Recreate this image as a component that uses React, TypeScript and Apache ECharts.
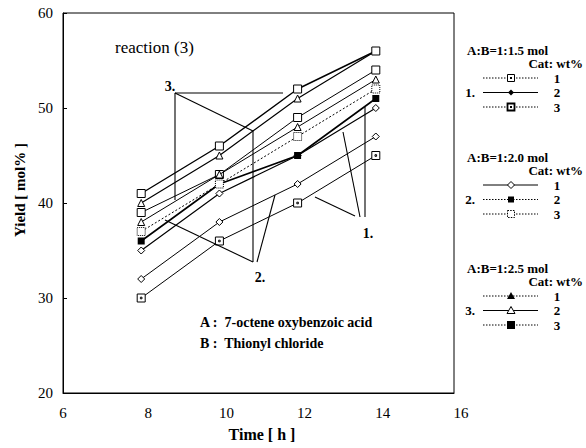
import React, { useEffect, useRef } from "react";
import * as echarts from "echarts";

// ---------- data ----------
const times = [8, 10, 12, 14];
const g1c1 = [30, 36, 40, 45];
const g1c2 = [35, 41, 45, 50];
const g1c3 = [36, 42, 45, 51];
const g2c1 = [32, 38, 42, 47];
const g2c2 = [39, 43, 49, 54];
const g2c3 = [37, 42, 47, 52];
const g3c1 = [38, 43, 48, 53];
const g3c2 = [40, 45, 51, 56];
const g3c3 = [41, 46, 52, 56];

const groupHeaders = ["A:B=1:1.5 mol", "A:B=1:2.0 mol", "A:B=1:2.5 mol"];
const groupTags = ["1.", "2.", "3."];
const catLabels = ["1", "2", "3"];
const noteLines = ["A :  7-octene oxybenzoic acid", "B :  Thionyl chloride"];

const FONT = "'Liberation Serif', 'Times New Roman', serif";

const SQDOT = "path://M0,0H10V10H0Z M4,4H6V6H4Z";

type Kind = "sqdot" | "fdia" | "sqbold" | "odia" | "fsqs" | "osq" | "dsq" | "ftri" | "otri" | "fsq";

interface SDef {
  name: string;
  data: number[];
  kind: Kind;
  dotted: boolean;
  width: number;
}

const seriesDefs: SDef[] = [
  { name: "1-1", data: g1c1, kind: "sqdot", dotted: false, width: 1 },
  { name: "1-2", data: g1c2, kind: "odia", dotted: false, width: 1.2 },
  { name: "1-3", data: g1c3, kind: "fsq", dotted: false, width: 1.6 },
  { name: "2-1", data: g2c1, kind: "odia", dotted: false, width: 1 },
  { name: "2-2", data: g2c2, kind: "osq", dotted: false, width: 1 },
  { name: "2-3", data: g2c3, kind: "dsq", dotted: true, width: 1 },
  { name: "3-1", data: g3c1, kind: "otri", dotted: false, width: 1 },
  { name: "3-2", data: g3c2, kind: "otri", dotted: false, width: 1.2 },
  { name: "3-3", data: g3c3, kind: "osq", dotted: false, width: 1.4 },
];

function symbolFor(kind: Kind): { symbol: string; size: number; fill: string; bw: number; bt: string } {
  switch (kind) {
    case "sqdot":
      return { symbol: SQDOT, size: 8, fill: "#fff", bw: 1, bt: "solid" };
    case "sqbold":
      return { symbol: SQDOT, size: 8, fill: "#fff", bw: 1.8, bt: "solid" };
    case "fdia":
      return { symbol: "diamond", size: 6, fill: "#000", bw: 0, bt: "solid" };
    case "odia":
      return { symbol: "diamond", size: 7, fill: "#fff", bw: 1, bt: "solid" };
    case "fsqs":
      return { symbol: "rect", size: 6, fill: "#000", bw: 0, bt: "solid" };
    case "osq":
      return { symbol: "rect", size: 8, fill: "#fff", bw: 1, bt: "solid" };
    case "dsq":
      return { symbol: "rect", size: 8, fill: "#fff", bw: 1, bt: "dotted" };
    case "ftri":
      return { symbol: "triangle", size: 7, fill: "#000", bw: 0, bt: "solid" };
    case "otri":
      return { symbol: "triangle", size: 7, fill: "#fff", bw: 1, bt: "solid" };
    case "fsq":
    default:
      return { symbol: "rect", size: 7, fill: "#000", bw: 0, bt: "solid" };
  }
}

const legendKinds: Kind[][] = [
  ["sqdot", "fdia", "sqbold"],
  ["odia", "fsqs", "dsq"],
  ["ftri", "otri", "fsq"],
];
const legendDotted: boolean[][] = [
  [true, false, true],
  [false, true, true],
  [true, false, true],
];

function legendMarker(kind: Kind, cx: number, cy: number): any[] {
  const st = (fill: string, lw = 1, dash: number[] | null = null) => ({ fill, stroke: "#000", lineWidth: lw, lineDash: dash });
  switch (kind) {
    case "sqdot":
    case "sqbold": {
      const lw = kind === "sqbold" ? 1.8 : 1;
      return [
        { type: "rect", shape: { x: cx - 3.5, y: cy - 3.5, width: 7, height: 7 }, style: st("#fff", lw), z: 20 },
        { type: "rect", shape: { x: cx - 1, y: cy - 1, width: 2, height: 2 }, style: { fill: "#000" }, z: 21 },
      ];
    }
    case "fdia":
      return [{ type: "polygon", shape: { points: [[cx, cy - 3], [cx + 3, cy], [cx, cy + 3], [cx - 3, cy]] }, style: { fill: "#000" }, z: 20 }];
    case "odia":
      return [{ type: "polygon", shape: { points: [[cx, cy - 3.5], [cx + 3.5, cy], [cx, cy + 3.5], [cx - 3.5, cy]] }, style: st("#fff"), z: 20 }];
    case "fsqs":
      return [{ type: "rect", shape: { x: cx - 3, y: cy - 3, width: 6, height: 6 }, style: { fill: "#000" }, z: 20 }];
    case "osq":
      return [{ type: "rect", shape: { x: cx - 3.5, y: cy - 3.5, width: 7, height: 7 }, style: st("#fff"), z: 20 }];
    case "dsq":
      return [{ type: "rect", shape: { x: cx - 3.5, y: cy - 3.5, width: 7, height: 7 }, style: st("#fff", 1, [1.5, 1.2]), z: 20 }];
    case "ftri":
      return [{ type: "polygon", shape: { points: [[cx, cy - 4], [cx + 4, cy + 3], [cx - 4, cy + 3]] }, style: { fill: "#000" }, z: 20 }];
    case "otri":
      return [{ type: "polygon", shape: { points: [[cx, cy - 4], [cx + 4, cy + 3], [cx - 4, cy + 3]] }, style: st("#fff"), z: 20 }];
    case "fsq":
    default:
      return [{ type: "rect", shape: { x: cx - 4, y: cy - 4, width: 8, height: 8 }, style: { fill: "#000" }, z: 20 }];
  }
}

function buildLegend(): any[] {
  const out: any[] = [];
  const headerY = [50, 157, 268];
  groupHeaders.forEach((h, gi) => {
    const y0 = headerY[gi];
    out.push({
      type: "text", x: 467, y: y0,
      style: { text: h, font: `bold 13px ${FONT}`, fill: "#000", align: "left", verticalAlign: "middle" },
    });
    out.push({
      type: "text", x: 583, y: y0 + 13,
      style: { text: "Cat: wt%", font: `bold 13px ${FONT}`, fill: "#000", align: "right", verticalAlign: "middle" },
    });
    catLabels.forEach((c, ci) => {
      const ry = y0 + 28 + ci * 14.5;
      out.push({
        type: "line", shape: { x1: 483, y1: ry, x2: 538, y2: ry },
        style: { stroke: "#000", lineWidth: 1, lineDash: legendDotted[gi][ci] ? [1.5, 1.5] : null },
      });
      legendMarker(legendKinds[gi][ci], 511, ry).forEach((m) => out.push(m));
      out.push({
        type: "text", x: 557, y: ry,
        style: { text: c, font: `bold 13px ${FONT}`, fill: "#000", align: "center", verticalAlign: "middle" },
      });
      if (ci === 1) {
        out.push({
          type: "text", x: 470, y: ry,
          style: { text: groupTags[gi], font: `bold 13px ${FONT}`, fill: "#000", align: "center", verticalAlign: "middle" },
        });
      }
    });
  });
  return out;
}

function buildAnnotations(): any[] {
  const ln = (x1: number, y1: number, x2: number, y2: number) => ({
    type: "line", shape: { x1, y1, x2, y2 }, style: { stroke: "#000", lineWidth: 1.1 }, z: 5,
  });
  const txt = (text: string, x: number, y: number, font: string, align = "center") => ({
    type: "text", x, y, style: { text, font, fill: "#000", align, verticalAlign: "middle" }, z: 6,
  });
  return [
    // 3.
    ln(175, 93, 283, 93),
    ln(175, 93, 175, 200),
    ln(175, 93, 253, 131),
    txt("3.", 170, 86, `bold 14px ${FONT}`),
    // 2.
    ln(253, 131, 253, 262),
    ln(165, 220, 253, 262),
    ln(257, 262, 275, 195),
    txt("2.", 260, 277, `bold 14px ${FONT}`),
    // 1.
    ln(315, 197, 355, 216),
    ln(343, 132, 360, 217),
    ln(365, 107, 365, 217),
    txt("1.", 368, 233, `bold 14px ${FONT}`),
    // texts
    txt("reaction (3)", 115, 47, `17px ${FONT}`, "left"),
    txt(noteLines[0], 200, 322, `bold 14px ${FONT}`, "left"),
    txt(noteLines[1], 200, 343, `bold 14px ${FONT}`, "left"),
    // axis names
    txt("Time [ h ]", 262, 434, `bold 16px ${FONT}`),
    {
      type: "text", x: 20, y: 190, rotation: Math.PI / 2,
      style: { text: "Yield [ mol% ]", font: `bold 15px ${FONT}`, fill: "#000", align: "center", verticalAlign: "middle" },
    },
  ];
}

export default function App() {
  const ref = useRef<HTMLDivElement>(null);
  useEffect(() => {
    if (!ref.current) return;
    const chart = echarts.init(ref.current, null, { renderer: "svg" });
    const series = seriesDefs.map((d, i) => {
      const s = symbolFor(d.kind);
      return {
        name: d.name,
        type: "line",
        data: times.map((t, k) => [t, d.data[k]]),
        symbol: s.symbol,
        symbolSize: s.size,
        showSymbol: true,
        z: 3 + i,
        lineStyle: { color: "#000", width: d.width, type: d.dotted ? [2, 2] : "solid" },
        itemStyle: { color: s.fill, borderColor: "#000", borderWidth: s.bw, borderType: s.bt },
        emphasis: { disabled: true },
      };
    });
    chart.setOption({
      animation: false,
      backgroundColor: "#fff",
      textStyle: { fontFamily: FONT },
      grid: { left: 63, top: 13, width: 391, height: 380, show: true, borderColor: "#000", borderWidth: 1, backgroundColor: "transparent" },
      xAxis: {
        type: "value", min: 6, max: 16, interval: 2,
        axisLine: { show: true, lineStyle: { color: "#000", width: 1 } },
        axisTick: { show: false },
        splitLine: { show: false },
        axisLabel: {
          color: "#000", fontSize: 15, fontFamily: FONT, margin: 12,
          formatter: (v: number) => (v === 6 ? `{n|${v}}` : `{s|${v}}`),
          rich: {
            n: { fontSize: 15, fontFamily: FONT, color: "#000" },
            s: { fontSize: 15, fontFamily: FONT, color: "#000", padding: [0, 0, 0, 14] },
          },
        },
      },
      yAxis: {
        type: "value", min: 20, max: 60, interval: 10,
        axisLine: { show: true, lineStyle: { color: "#000", width: 1 } },
        axisTick: { show: true, inside: true, length: 4, lineStyle: { color: "#000" } },
        splitLine: { show: false },
        axisLabel: { color: "#000", fontSize: 15, fontFamily: FONT, margin: 10 },
      },
      series,
      graphic: [...buildAnnotations(), ...buildLegend()],
    });
    return () => chart.dispose();
  }, []);
  return <div ref={ref} style={{ width: 586, height: 448, position: "absolute", left: 0, top: 0 }} />;
}
